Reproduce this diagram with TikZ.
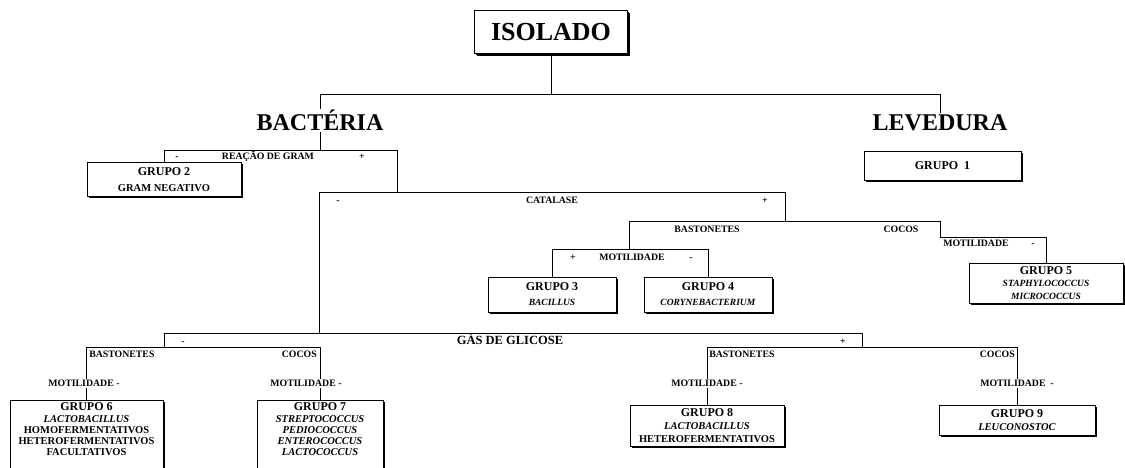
\documentclass[tikz,border=0pt]{standalone}
\usepackage{fontspec}
\setmainfont{Liberation Serif}
\usetikzlibrary{shadows,backgrounds}
\newcommand{\gtit}{\fontsize{12}{13}\selectfont}
\begin{document}
\begin{tikzpicture}[x=1pt,y=-1pt,
  line width=0.6pt,
  every node/.style={font=\bfseries},
  box/.style={draw, fill=white, line width=0.6pt, inner sep=0pt, align=center,
    drop shadow={fill=black, opacity=1, shadow xshift=1.8pt, shadow yshift=-1.8pt}},
  head/.style={font=\bfseries\fontsize{24}{24}\selectfont, inner sep=1pt},
  lbl/.style={font=\bfseries\fontsize{9.8}{10}\selectfont, inner sep=1pt},
  gaslbl/.style={font=\bfseries\fontsize{12.5}{13}\selectfont, inner sep=1pt},
  mlbl/.style={lbl, fill=white, inner sep=1.5pt}]
\useasboundingbox (0,0) rectangle (1125,468);

% bracket coordinates
\coordinate (top) at (551,94);
\coordinate (gramL) at (164,150);
\coordinate (gramR) at (397,150);
\coordinate (catL) at (319,192);
\coordinate (catR) at (785,192);
\coordinate (bastL) at (629,221);
\coordinate (bastR) at (940,221);
\coordinate (cocoT) at (940,237);
\coordinate (motY) at (0,249);
\coordinate (gasL) at (164,333);
\coordinate (gasR) at (862,333);
\coordinate (subY) at (0,347);

% boxes and headings
\node[box, minimum width=153pt, minimum height=43pt,
  drop shadow={fill=black, opacity=1, shadow xshift=2.4pt, shadow yshift=-2.4pt}]
  (iso) at (551,32) {\fontsize{26}{26}\selectfont ISOLADO};
\node[head, anchor=base] (bac) at (320,130.5) {BACTÉRIA};
\node[head, anchor=base] (lev) at (940,130.5) {LEVEDURA};

\node[box, minimum width=157pt, minimum height=29pt] (g1) at (942.5,165.5) {\gtit GRUPO~~1};
\node[box, minimum width=154pt, minimum height=34pt, font=\bfseries\fontsize{10.5}{16}\selectfont]
  (g2) at (164,179.5) {{\gtit GRUPO 2}\\GRAM NEGATIVO};
\node[box, minimum width=128pt, minimum height=35pt, font=\bfseries\fontsize{9.5}{15}\selectfont]
  (g3) at (552,294.5) {{\gtit GRUPO 3}\\\textit{BACILLUS}};
\node[box, minimum width=128pt, minimum height=35pt, font=\bfseries\fontsize{9.5}{15}\selectfont]
  (g4) at (708,294.5) {{\gtit GRUPO 4}\\\textit{CORYNEBACTERIUM}};
\node[box, minimum width=154pt, minimum height=40pt, font=\bfseries\fontsize{9.5}{12.5}\selectfont]
  (g5) at (1046,283) {{\gtit GRUPO 5}\\\textit{STAPHYLOCOCCUS}\\\textit{MICROCOCCUS}};
\node[box, anchor=north] (g6) at (86.5,400) {\begin{minipage}[t][72pt][t]{153pt}\centering
  \fontsize{10.5}{11.3}\selectfont\vspace*{2.5pt}{\gtit GRUPO 6}\\
  \textit{LACTOBACILLUS}\\HOMOFERMENTATIVOS\\HETEROFERMENTATIVOS\\FACULTATIVOS\end{minipage}};
\node[box, anchor=north] (g7) at (320,400) {\begin{minipage}[t][72pt][t]{126pt}\centering
  \fontsize{10.5}{11.3}\selectfont\vspace*{2.5pt}{\gtit GRUPO 7}\\
  \textit{STREPTOCOCCUS}\\\textit{PEDIOCOCCUS}\\\textit{ENTEROCOCCUS}\\\textit{LACTOCOCCUS}\end{minipage}};
\node[box, minimum width=154pt, minimum height=41pt, font=\bfseries\fontsize{10.5}{13}\selectfont]
  (g8) at (707,425.5) {{\gtit GRUPO 8}\\\textit{LACTOBACILLUS}\\HETEROFERMENTATIVOS};
\node[box, minimum width=156pt, minimum height=30pt, font=\bfseries\fontsize{10.5}{13}\selectfont]
  (g9) at (1017,420) {{\gtit GRUPO 9}\\\textit{LEUCONOSTOC}};

% bracket labels
\node[lbl, anchor=base] (gramm) at (177,160) {-};
\node[lbl, anchor=base] (gram) at (268,160) {REAÇÃO DE GRAM};
\node[lbl, anchor=base] (gramp) at (362,160) {+};
\node[lbl, anchor=base] (catm) at (338,203.5) {-};
\node[lbl, anchor=base] (cat) at (552,203.5) {CATALASE};
\node[lbl, anchor=base] (catp) at (765,203.5) {+};
\node[lbl, anchor=base] (bast1) at (707,232.5) {BASTONETES};
\node[lbl, anchor=base] (coc1) at (901,232.5) {COCOS};
\node[lbl, anchor=base] (motp) at (573,260.5) {+};
\node[lbl, anchor=base] (mot) at (632,260.5) {MOTILIDADE};
\node[lbl, anchor=base] (motm) at (691,260.5) {-};
\node[lbl, anchor=base west] (mot5) at (942,246.5) {MOTILIDADE};
\node[lbl, anchor=base] (mot5m) at (1033,246.5) {-};
\node[lbl, anchor=base] (gasm) at (183,344) {-};
\node[gaslbl, anchor=base] (gas) at (510,344) {GÁS DE GLICOSE};
\node[lbl, anchor=base] (gasp) at (843,344) {+};
\node[lbl, anchor=base west] (bast2) at (88,357.5) {BASTONETES};
\node[lbl, anchor=base east] (coc2) at (318,357.5) {COCOS};
\node[lbl, anchor=base west] (bast3) at (708,357.5) {BASTONETES};
\node[lbl, anchor=base east] (coc3) at (1016,357.5) {COCOS};
\node[mlbl, anchor=base] (mot6) at (84,386.5) {MOTILIDADE~-};
\node[mlbl, anchor=base] (mot7) at (306,386.5) {MOTILIDADE~-};
\node[mlbl, anchor=base] (mot8) at (707,386.5) {MOTILIDADE~-};
\node[mlbl, anchor=base] (mot9) at (1017,386.5) {MOTILIDADE~~-};

% connectors
\begin{scope}[on background layer]
\fill[white] (0,0) rectangle (1125,468);
\draw (iso.south) -- (iso.south |- top);
\draw (bac.north) -- (bac.north |- top) -- (lev.north |- top) -- (lev.north);
\draw (bac.south) -- (bac.south |- gramL);
\draw (g2.north) -- (g2.north |- gramL) -- (gramR) -- (gramR |- catL);
\draw (catL |- gasL) -- (catL) -- (catR) -- (catR |- bastL);
\draw (bastL |- motY) -- (bastL) -- (bastR) -- (cocoT) -- (g5.north |- cocoT) -- (g5.north);
\draw (g3.north) -- (g3.north |- motY) -- (g4.north |- motY) -- (g4.north);
\draw (gasL |- subY) -- (gasL) -- (gasR) -- (gasR |- subY);
\draw (g6.north) -- (g6.north |- subY) -- (g7.north |- subY) -- (g7.north);
\draw (g8.north) -- (g8.north |- subY) -- (g9.north |- subY) -- (g9.north);
\end{scope}
\end{tikzpicture}
\end{document}
